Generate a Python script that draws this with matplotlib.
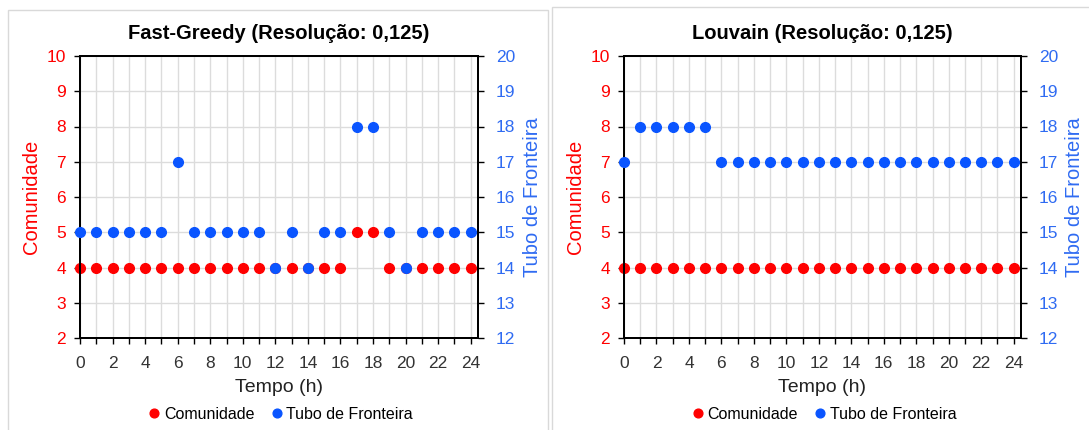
import numpy as np
import matplotlib.pyplot as plt
from matplotlib.patches import Rectangle
from matplotlib.ticker import MultipleLocator

plt.rcParams['font.family'] = ['Liberation Sans', 'DejaVu Sans']

# data
horas = list(range(25))

fg_comunidade = [4, 4, 4, 4, 4, 4, 4, 4, 4, 4, 4, 4, 4, 4, 4, 4, 4,
                 5, 5, 4, 4, 4, 4, 4, 4]
fg_tubo = [15, 15, 15, 15, 15, 15, 17, 15, 15, 15, 15, 15, 14, 15, 14, 15, 15,
           18, 18, 15, 14, 15, 15, 15, 15]

lv_comunidade = [4] * 25
lv_tubo = [17, 18, 18, 18, 18, 18, 17, 17, 17, 17, 17, 17, 17, 17, 17, 17, 17,
           17, 17, 17, 17, 17, 17, 17, 17]

titulos = ['Fast-Greedy (Resolução: 0,125)', 'Louvain (Resolução: 0,125)']

RED = '#FF0000'
BLUE = '#0A55FF'
BLUE_TXT = '#2F6BF2'
GRID = '#DCDCDC'

W, H = 1089, 430
fig = plt.figure(figsize=(W / 100, H / 100), dpi=100)

# panel frames
fig.patches.append(Rectangle((8 / W, -0.01), 540 / W, 1 - 10 / H + 0.01,
                             transform=fig.transFigure, fill=False,
                             edgecolor='#D9D9D9', lw=1))
fig.patches.append(Rectangle((552 / W, -0.01), 540 / W, 1 - 7 / H + 0.01,
                             transform=fig.transFigure, fill=False,
                             edgecolor='#D9D9D9', lw=1))


def painel(left, right, com, tubo, titulo):
    ax = fig.add_axes([left / W, 1 - 338 / H, (right - left) / W, (338 - 56) / H])
    ax2 = ax.twinx()

    ax.set_xlim(0, 24.45)
    ax.set_ylim(2, 10)
    ax2.set_ylim(12, 20)

    ax.xaxis.set_major_locator(MultipleLocator(2))
    ax.xaxis.set_minor_locator(MultipleLocator(1))
    ax.yaxis.set_major_locator(MultipleLocator(1))
    ax2.yaxis.set_major_locator(MultipleLocator(1))

    ax.grid(True, which='both', axis='x', color=GRID, lw=1)
    ax.grid(True, which='major', axis='y', color=GRID, lw=1)
    ax.set_axisbelow(True)

    for a in (ax, ax2):
        for s in a.spines.values():
            s.set_color('black')
            s.set_linewidth(1.4)

    ax.tick_params(axis='x', which='both', direction='out', length=4,
                   width=1, colors='black', labelcolor='#333333',
                   labelsize=12.5, pad=9)
    ax.tick_params(axis='y', direction='out', length=4, width=1,
                   colors='black', labelcolor=RED, labelsize=12.5, pad=6)
    ax2.tick_params(axis='y', direction='out', length=4, width=1,
                    colors='black', labelcolor=BLUE_TXT, labelsize=12.5, pad=9)

    l1, = ax.plot(horas, com, 'o', color=RED, ms=7, clip_on=False,
                  zorder=3, label='Comunidade')
    l2, = ax2.plot(horas, tubo, 'o', color=BLUE, ms=7, clip_on=False,
                   zorder=3, label='Tubo de Fronteira')

    ax.set_title(titulo, fontsize=14.5, fontweight='bold', pad=12)
    ax.set_xlabel('Tempo (h)', fontsize=14, color='#222222', labelpad=6)
    ax.set_ylabel('Comunidade', fontsize=14.5, color=RED, labelpad=4)
    ax2.set_ylabel('Tubo de Fronteira', fontsize=14.5, color=BLUE_TXT,
                   labelpad=5)

    ax.legend(handles=[l1, l2], loc='center', ncol=2, frameon=False,
              bbox_to_anchor=(0.5, -0.27), fontsize=11.5, handletextpad=0.0,
              columnspacing=0.8, handlelength=1.2, markerscale=0.9,
              borderpad=0.2)
    return ax


painel(80, 478, fg_comunidade, fg_tubo, titulos[0])
painel(624, 1021, lv_comunidade, lv_tubo, titulos[1])

fig.savefig('out.png', dpi=100)
